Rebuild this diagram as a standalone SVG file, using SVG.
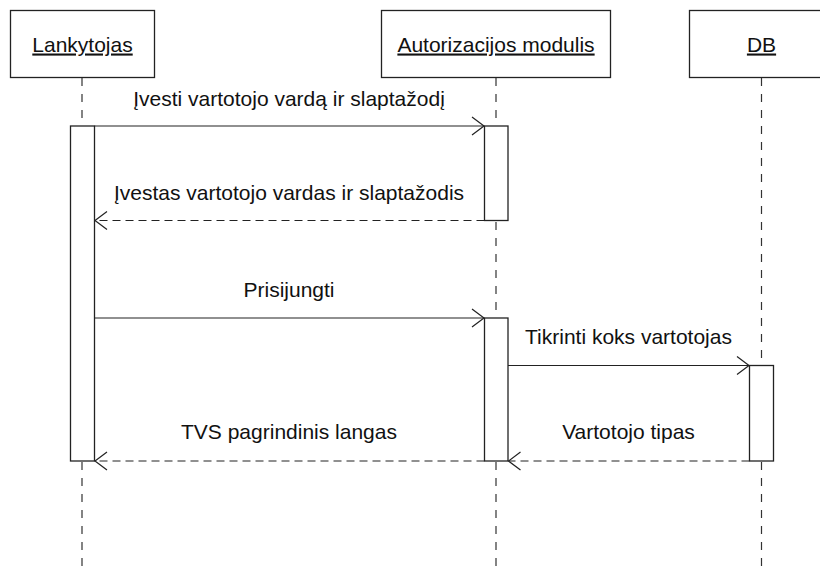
<svg xmlns="http://www.w3.org/2000/svg" width="820" height="574" viewBox="0 0 820 574">
  <style>
    .box{fill:#fff;stroke:#222;stroke-width:1.3}
    .life{fill:none;stroke:#333;stroke-width:1.2;stroke-dasharray:8 8}
    .act{fill:#fff;stroke:#222;stroke-width:1.3}
    .msg{fill:none;stroke:#222;stroke-width:1.2}
    .ret{stroke-dasharray:8 5}
    text{font-family:"Liberation Sans",Arial,sans-serif;font-size:21px;fill:#111;text-anchor:middle}
    .title{text-decoration:underline}
  </style>
  <defs>
    <marker id="open" viewBox="-14 -11 16 22" refX="0" refY="0" markerWidth="16" markerHeight="22" markerUnits="userSpaceOnUse" orient="auto">
      <path d="M-12,-9 L0,0 L-12,9" fill="none" stroke="#222" stroke-width="1.2" stroke-dasharray="none"/>
    </marker>
  </defs>
  <rect width="820" height="574" fill="#fff"/>

  <!-- participant: Lankytojas -->
  <g id="lankytojas">
    <line class="life" x1="82" y1="78" x2="82" y2="574"/>
    <rect class="box" x="10.5" y="10.5" width="144" height="67"/>
    <text class="title" x="82.5" y="51.5">Lankytojas</text>
    <rect class="act" x="70.5" y="126" width="24" height="335"/>
  </g>

  <!-- participant: Autorizacijos modulis -->
  <g id="autorizacija">
    <line class="life" x1="496" y1="78" x2="496" y2="574"/>
    <rect class="box" x="381.5" y="10.5" width="229" height="67"/>
    <text class="title" x="496" y="51.5">Autorizacijos modulis</text>
    <rect class="act" x="484.5" y="126" width="23.5" height="94.5"/>
    <rect class="act" x="484.5" y="318" width="23.5" height="143"/>
  </g>

  <!-- participant: DB -->
  <g id="db">
    <line class="life" x1="761.5" y1="78" x2="761.5" y2="574"/>
    <rect class="box" x="689.5" y="10.5" width="144" height="67"/>
    <text class="title" x="761.5" y="51.5">DB</text>
    <rect class="act" x="749.5" y="365.5" width="24" height="95.5"/>
  </g>

  <!-- messages -->
  <g id="connectors">
    <line class="msg" x1="94.5" y1="126" x2="484" y2="126" marker-end="url(#open)"/>
    <text x="289" y="106">Įvesti vartotojo vardą ir slaptažodį</text>

    <line class="msg ret" x1="484.5" y1="220.5" x2="95" y2="220.5" marker-end="url(#open)"/>
    <text x="289" y="200">Įvestas vartotojo vardas ir slaptažodis</text>

    <line class="msg" x1="94.5" y1="318" x2="484" y2="318" marker-end="url(#open)"/>
    <text x="289" y="297">Prisijungti</text>

    <line class="msg" x1="508" y1="365.5" x2="749" y2="365.5" marker-end="url(#open)"/>
    <text x="628.5" y="343.5">Tikrinti koks vartotojas</text>

    <line class="msg ret" x1="749.5" y1="461" x2="508.5" y2="461" marker-end="url(#open)"/>
    <text x="628.5" y="438.5">Vartotojo tipas</text>

    <line class="msg ret" x1="484.5" y1="461" x2="95" y2="461" marker-end="url(#open)"/>
    <text x="289" y="438.5">TVS pagrindinis langas</text>
  </g>
</svg>
